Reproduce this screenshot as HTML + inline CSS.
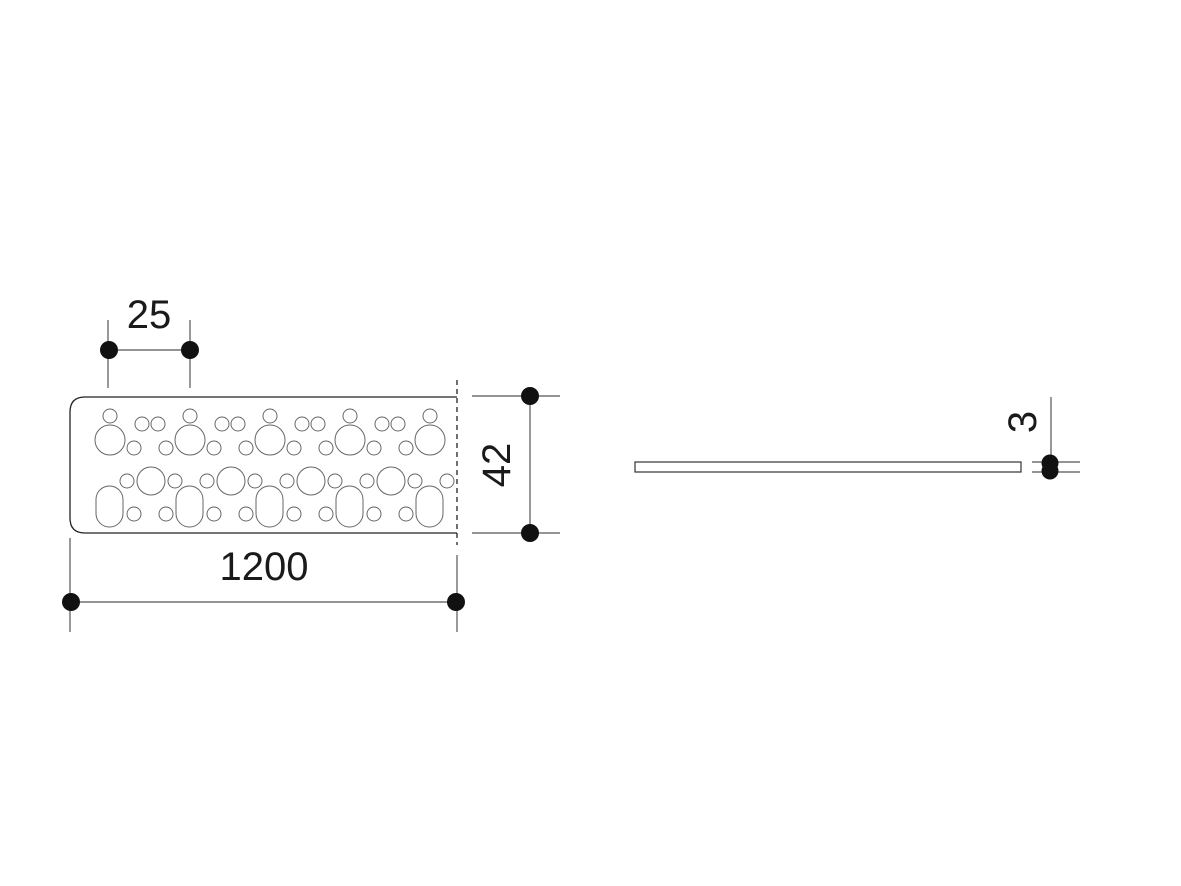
<!DOCTYPE html>
<html><head><meta charset="utf-8"><style>html,body{margin:0;padding:0;background:#fff}svg{display:block}</style></head>
<body>
<svg width="1181" height="886" viewBox="0 0 1181 886" xmlns="http://www.w3.org/2000/svg" font-family="Liberation Sans, sans-serif">
<defs>
<clipPath id="pc"><rect x="70" y="396" width="386" height="138"/></clipPath>
<g id="u" fill="none" stroke="#666" stroke-width="1">
<circle cx="0" cy="416" r="7"/>
<circle cx="32" cy="424" r="7"/><circle cx="48" cy="424" r="7"/>
<circle cx="0" cy="440" r="15"/>
<circle cx="24" cy="448" r="7"/><circle cx="56" cy="448" r="7"/>
<circle cx="17" cy="481" r="7"/><circle cx="41" cy="481" r="14"/><circle cx="65" cy="481" r="7"/>
<rect x="-14" y="486" width="27" height="41" rx="13.5"/>
<circle cx="24" cy="514" r="7"/><circle cx="56" cy="514" r="7"/>
</g>
<g id="last" fill="none" stroke="#666" stroke-width="1">
<circle cx="0" cy="416" r="7"/>
<circle cx="0" cy="440" r="15"/>
<circle cx="17" cy="481" r="7"/>
<rect x="-14" y="486" width="27" height="41" rx="13.5"/>
</g>
</defs>
<path d="M457 397 H85 Q70 397 70 412 V518 Q70 533 85 533 H457" fill="none" stroke="#222" stroke-width="1.3"/>
<line x1="457" y1="380" x2="457" y2="545" stroke="#222" stroke-width="1.3" stroke-dasharray="5,4"/>
<g clip-path="url(#pc)">
<use href="#u" x="110"/><use href="#u" x="190"/><use href="#u" x="270"/><use href="#u" x="350"/><use href="#last" x="430"/>
</g>
<g stroke="#555" stroke-width="1.2" fill="none">
<line x1="108" y1="320" x2="108" y2="388"/><line x1="190" y1="320" x2="190" y2="388"/><line x1="108" y1="350" x2="190" y2="350"/>
<line x1="472" y1="396" x2="560" y2="396"/><line x1="472" y1="533" x2="560" y2="533"/><line x1="530" y1="396" x2="530" y2="533"/>
<line x1="70" y1="538" x2="70" y2="632"/><line x1="457" y1="555" x2="457" y2="632"/><line x1="70" y1="602" x2="457" y2="602"/>
<line x1="1032" y1="462" x2="1080" y2="462"/><line x1="1032" y1="472" x2="1080" y2="472"/><line x1="1051" y1="397" x2="1051" y2="462"/>
</g>
<g fill="#111">
<circle cx="109" cy="350" r="9"/><circle cx="190" cy="350" r="9"/>
<circle cx="530" cy="396" r="9"/><circle cx="530" cy="533" r="9"/>
<circle cx="71" cy="602" r="9"/><circle cx="456" cy="602" r="9"/>
<circle cx="1050" cy="463" r="8.5"/><circle cx="1050" cy="471" r="8.5"/>
</g>
<rect x="635" y="462" width="386" height="10" fill="none" stroke="#333" stroke-width="1.2"/>
<g fill="#1a1a1a" font-size="40">
<text x="149" y="328" text-anchor="middle">25</text>
<text x="264" y="580" text-anchor="middle">1200</text>
<text transform="translate(510,465) rotate(-90)" text-anchor="middle">42</text>
<text transform="translate(1036,422) rotate(-90)" text-anchor="middle">3</text>
</g>
</svg>
</body></html>
